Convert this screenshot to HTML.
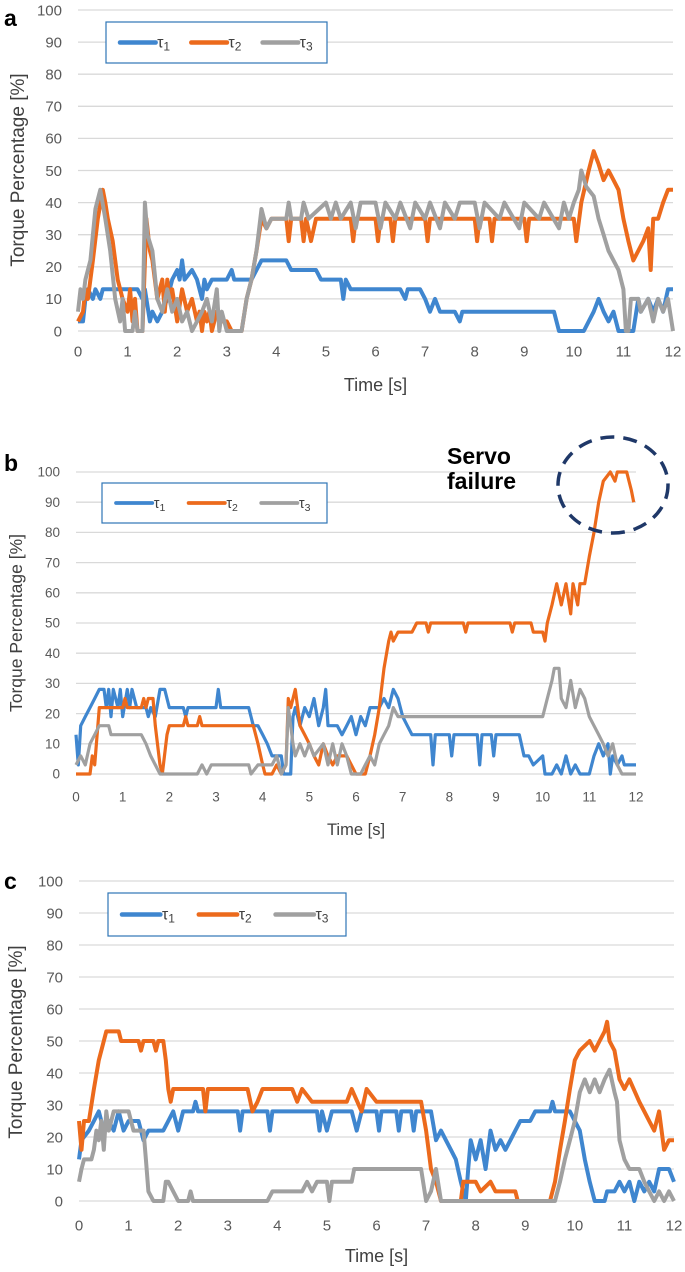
<!DOCTYPE html>
<html><head><meta charset="utf-8"><style>
body{margin:0;background:#fff;}
svg{display:block;font-family:"Liberation Sans",sans-serif;}
</style></head><body>
<svg id="fig" width="685" height="1272" viewBox="0 0 685 1272"></svg>
<script>
const ticksX=[0,1,2,3,4,5,6,7,8,9,10,11,12];
const ticksY=[0,10,20,30,40,50,60,70,80,90,100];
const seriesNames=["τ1","τ2","τ3"];
// flat [t,v,...] arrays
const a_tau1=[0,3,0.1,3,0.15,10,0.2,13,0.3,10,0.35,13,0.45,10,0.5,13,1.2,13,1.3,10,1.35,13,1.45,3,1.5,6,1.6,3,1.7,6,1.8,10,1.9,16,2.0,19,2.05,16,2.1,22,2.15,16,2.3,19,2.4,16,2.5,10,2.55,16,2.6,13,2.7,16,3.0,16,3.1,19,3.15,16,3.5,16,3.6,19,3.7,22,4.2,22,4.3,19,4.8,19,4.9,16,5.3,16,5.35,10,5.4,16,5.5,13,6.5,13,6.6,10,6.65,13,6.9,13,7.0,10,7.1,6,7.2,10,7.3,6,7.6,6,7.7,3,7.75,6,9.6,6,9.7,0,10.2,0,10.4,6,10.5,10,10.6,6,10.7,3,10.8,6,10.9,0,11.2,0,11.3,10,11.35,6,11.5,10,11.6,6,11.7,10,11.8,6,11.9,13,12,13];
const a_tau2=[0,3,0.1,6,0.15,13,0.2,10,0.3,22,0.4,35,0.5,44,0.55,40,0.6,35,0.7,28,0.8,16,0.9,10,1.0,6,1.05,13,1.1,3,1.15,10,1.2,0,1.3,0,1.38,35,1.45,25,1.5,22,1.6,10,1.7,16,1.75,6,1.8,16,1.85,10,1.9,13,2.0,3,2.1,13,2.2,6,2.3,10,2.4,3,2.45,6,2.5,0,2.55,6,2.6,3,2.65,6,2.7,0,2.8,6,2.9,3,3.0,3,3.1,0,3.3,0,3.4,10,3.5,16,3.6,25,3.7,35,3.8,32,3.9,35,4.2,35,4.25,28,4.3,35,4.5,35,4.55,28,4.6,35,4.7,28,4.8,35,5.5,35,5.55,28,5.6,35,6.0,35,6.05,28,6.1,35,6.3,35,6.35,28,6.4,35,7.0,35,7.05,28,7.1,35,8.0,35,8.05,28,8.1,35,8.3,35,8.35,28,8.4,35,9.0,35,9.05,28,9.1,35,10.0,35,10.05,28,10.15,40,10.3,50,10.4,56,10.5,52,10.6,47,10.7,50,10.8,47,10.9,44,11.0,35,11.1,28,11.2,22,11.3,25,11.4,28,11.5,32,11.55,19,11.6,35,11.7,35,11.8,40,11.9,44,12,44];
const a_tau3=[0,6,0.05,13,0.1,10,0.15,16,0.25,22,0.35,38,0.45,44,0.55,35,0.65,25,0.75,10,0.85,3,0.9,10,0.95,0,1.1,0,1.15,6,1.2,0,1.3,0,1.35,40,1.4,30,1.5,25,1.6,10,1.7,6,1.8,13,1.9,6,2.0,10,2.1,3,2.2,6,2.3,0,2.4,3,2.5,6,2.6,10,2.7,3,2.8,13,2.85,0,2.9,6,3.0,0,3.3,0,3.4,10,3.5,16,3.6,25,3.7,38,3.8,32,3.9,35,4.2,35,4.25,40,4.3,35,4.5,35,4.55,40,4.65,35,5.0,40,5.1,35,5.2,40,5.3,35,5.5,40,5.6,32,5.7,40,6.0,40,6.1,32,6.2,40,6.4,35,6.5,40,6.7,32,6.8,40,7.0,35,7.1,40,7.3,32,7.4,40,7.6,35,7.7,40,8.0,40,8.1,32,8.2,40,8.5,35,8.6,40,8.9,32,9.0,40,9.3,35,9.4,40,9.7,32,9.8,40,9.9,35,10.0,40,10.1,44,10.15,50,10.25,45,10.4,42,10.5,35,10.6,30,10.7,25,10.8,22,10.9,19,11.0,13,11.05,0,11.1,0,11.15,10,11.3,10,11.35,6,11.5,10,11.6,3,11.7,10,11.8,6,11.9,10,12,0];
const b_tau1=[0,13,0.05,3,0.1,16,0.2,19,0.3,22,0.4,25,0.5,28,0.6,28,0.65,22,0.7,28,0.75,19,0.8,28,0.9,22,0.95,28,1.0,19,1.1,28,1.15,22,1.2,28,1.3,22,1.5,22,1.55,19,1.6,22,1.7,19,1.8,28,1.9,28,2.0,22,2.3,22,2.35,19,2.4,22,3.0,22,3.05,28,3.1,22,3.7,22,3.75,19,3.8,16,3.9,16,4.0,13,4.1,10,4.2,6,4.4,6,4.45,0,4.6,0,4.65,19,4.7,22,4.8,16,4.9,22,5.0,19,5.1,25,5.2,16,5.3,22,5.35,28,5.4,16,5.6,16,5.7,13,5.8,16,5.9,19,6.0,13,6.1,19,6.2,16,6.3,22,6.5,22,6.6,25,6.7,22,6.8,28,6.9,25,7.0,19,7.1,16,7.2,13,7.6,13,7.65,3,7.7,13,8.0,13,8.05,6,8.1,13,8.6,13,8.65,3,8.7,13,8.9,13,8.95,6,9.0,13,9.5,13,9.6,6,9.7,6,9.8,3,10.0,6,10.05,0,10.2,0,10.3,3,10.4,0,10.5,6,10.6,0,10.7,3,10.8,0,11.0,0,11.1,6,11.2,10,11.3,6,11.4,10,11.45,0,11.5,6,11.6,3,11.7,6,11.75,3,12,3];
const b_tau2=[0,0,0.3,0,0.35,6,0.4,3,0.5,22,1.0,22,1.05,25,1.1,22,1.4,22,1.45,25,1.5,22,1.55,25,1.65,25,1.7,16,1.8,3,1.85,0,1.95,13,2.0,16,2.3,16,2.35,19,2.4,16,2.6,16,2.65,19,2.7,16,3.8,16,3.9,10,4.0,3,4.05,0,4.2,0,4.3,3,4.4,0,4.5,3,4.55,25,4.6,22,4.7,28,4.8,16,4.9,13,5.0,10,5.1,6,5.2,3,5.3,10,5.4,6,5.5,3,5.6,6,5.8,6,5.9,3,6.0,0,6.2,0,6.3,6,6.4,13,6.5,22,6.6,35,6.7,44,6.75,47,6.8,44,6.9,47,7.2,47,7.3,50,7.5,50,7.55,47,7.6,50,8.3,50,8.35,47,8.4,50,9.3,50,9.35,47,9.4,50,9.75,50,9.8,47,10.0,47,10.05,44,10.1,50,10.2,56,10.3,63,10.4,56,10.5,63,10.6,53,10.65,63,10.75,56,10.8,63,10.9,63,11.0,72,11.1,80,11.2,90,11.3,97,11.45,100,11.55,97,11.6,100,11.8,100,11.85,97,11.9,94,11.95,90];
const b_tau3=[0,3,0.1,6,0.2,3,0.3,10,0.4,13,0.5,16,0.7,16,0.75,13,1.4,13,1.5,10,1.6,6,1.7,3,1.8,0,2.6,0,2.7,3,2.8,0,2.9,3,3.7,3,3.75,0,3.9,3,4.2,3,4.3,6,4.4,0,4.5,3,4.55,22,4.6,16,4.65,10,4.7,6,4.8,10,4.9,6,5.0,10,5.1,6,5.3,10,5.4,3,5.5,10,5.6,3,5.7,10,5.8,6,5.9,0,6.1,0,6.2,3,6.3,6,6.4,3,6.5,10,6.6,13,6.7,16,6.8,22,6.9,19,10.0,19,10.1,25,10.2,31,10.25,35,10.35,35,10.4,25,10.5,22,10.6,31,10.7,22,10.8,28,10.9,25,11.0,19,11.1,16,11.2,13,11.3,10,11.4,6,11.5,10,11.6,3,11.7,0,12,0];
const c_tau1=[0,13,0.05,19,0.2,22,0.3,25,0.4,28,0.5,22,0.6,25,0.7,22,0.8,28,0.9,22,1.0,25,1.2,25,1.3,19,1.4,22,1.7,22,1.8,25,1.9,28,2.0,22,2.1,28,2.3,28,2.35,31,2.4,28,3.2,28,3.25,22,3.3,28,3.8,28,3.85,22,3.9,28,4.8,28,4.85,22,4.9,28,5.0,22,5.1,28,5.5,28,5.6,22,5.7,28,6.0,28,6.05,22,6.1,28,6.4,28,6.45,22,6.5,28,6.7,28,6.75,22,6.8,28,7.1,28,7.2,19,7.3,22,7.4,19,7.5,16,7.6,13,7.7,6,7.8,0,7.85,10,7.9,19,8.0,13,8.1,19,8.2,10,8.3,22,8.4,16,8.5,19,8.6,16,8.7,19,8.8,22,8.9,25,9.1,25,9.2,28,9.5,28,9.55,31,9.6,28,9.9,28,10.0,25,10.1,22,10.2,13,10.3,6,10.4,0,10.6,0,10.65,3,10.8,3,10.9,6,11.0,3,11.1,6,11.2,0,11.3,6,11.4,3,11.5,6,11.6,3,11.7,10,11.9,10,12,6];
const c_tau2=[0,25,0.05,16,0.1,25,0.2,25,0.3,35,0.4,44,0.5,50,0.55,53,0.8,53,0.85,50,1.2,50,1.25,47,1.3,50,1.5,50,1.55,47,1.6,50,1.7,50,1.75,44,1.8,35,1.85,31,1.9,35,2.5,35,2.55,28,2.6,35,3.4,35,3.5,28,3.6,31,3.7,35,4.3,35,4.4,31,4.5,35,4.7,31,5.4,31,5.5,35,5.7,28,5.8,35,6.0,31,6.9,31,7.0,22,7.1,10,7.2,6,7.3,0,7.7,0,7.75,6,8.0,6,8.1,3,8.3,6,8.4,3,8.8,3,8.85,0,9.5,0,9.6,6,9.7,16,9.8,25,9.9,35,10.0,44,10.1,47,10.3,50,10.4,47,10.5,50,10.6,53,10.65,56,10.7,50,10.8,47,10.9,38,11.0,35,11.1,38,11.3,31,11.4,28,11.5,25,11.6,22,11.7,28,11.8,16,11.9,19,12,19];
const c_tau3=[0,6,0.05,10,0.1,13,0.25,13,0.3,16,0.35,22,0.4,19,0.45,25,0.5,16,0.55,28,0.6,22,0.7,28,1.0,28,1.1,22,1.3,22,1.35,13,1.4,3,1.5,0,1.7,0,1.75,6,1.8,6,1.9,3,2.0,0,2.2,0,2.25,3,2.3,0,3.8,0,3.9,3,4.5,3,4.6,6,4.7,3,4.8,6,5.0,6,5.05,0,5.1,6,5.5,6,5.55,10,6.9,10,7.0,0,7.1,3,7.2,10,7.3,0,9.6,0,9.7,6,9.8,13,9.9,19,10.0,25,10.1,34,10.2,38,10.3,34,10.4,38,10.5,34,10.6,38,10.7,41,10.8,34,10.85,31,10.9,19,11.0,13,11.1,10,11.3,10,11.4,6,11.5,3,11.6,0,11.7,3,11.8,0,11.9,3,12,0];

const NS="http://www.w3.org/2000/svg";
const svg=document.getElementById('fig');
const colors=["#3f86cf","#ec6a1c","#a0a0a0"];
function mk(tag,attrs,parent){const e=document.createElementNS(NS,tag);for(const k in attrs)e.setAttribute(k,attrs[k]);(parent||svg).appendChild(e);return e;}

const panels=[
 {id:"a",x0:78,x1:673,y0:331,y1:10,lw:4,fs:15,lab:{x:4,y:26},ytx:18,yty:170,ttl:385,xtl:351,leg:[106,22,221,41],series:[a_tau1,a_tau2,a_tau3]},
 {id:"b",x0:76,x1:636,y0:774,y1:472,lw:3.2,fs:13.5,lab:{x:4,y:471},ytx:16,yty:623,ttl:829,xtl:797,leg:[102,483,225,40],series:[b_tau1,b_tau2,b_tau3]},
 {id:"c",x0:79,x1:674,y0:1201,y1:881,lw:4,fs:15,lab:{x:4,y:889},ytx:16,yty:1042,ttl:1256,xtl:1225,leg:[108,893,238,43],series:[c_tau1,c_tau2,c_tau3]}
];

panels.forEach(p=>{
  const g=mk('g',{});
  
  
  const sx=t=>p.x0+(p.x1-p.x0)*t/12;
  const sy=v=>p.y0+(p.y1-p.y0)*v/100;
  ticksY.forEach(v=>{
    const l=mk('line',{x1:p.x0,x2:p.x1,y1:sy(v),y2:sy(v),stroke:"#d9d9d9","stroke-width":1.3},g);
    
    
    const t=mk('text',{x:p.x0-16,y:sy(v)+p.fs*0.35,"text-anchor":"end","font-size":p.fs,fill:"#595959"},g);
    t.textContent=v;
    
    
  });
  ticksX.forEach(v=>{
    const t=mk('text',{x:sx(v),y:p.xtl+p.fs*0.35,"text-anchor":"middle","font-size":p.fs,fill:"#595959"},g);
    t.textContent=v;
    
    
  });
  const xt=mk('text',{x:(p.x0+p.x1)/2,y:p.ttl+6,"text-anchor":"middle","font-size":p.fs+3,fill:"#404040"},g);
  xt.textContent="Time [s]";
  
  
  const yt=mk('text',{x:0,y:0,"text-anchor":"middle","font-size":p.fs+4,fill:"#404040",transform:`translate(${p.ytx+6},${p.yty}) rotate(-90)`},g);
  yt.textContent="Torque Percentage [%]";
  
  
  const pl=mk('text',{x:p.lab.x,y:p.lab.y,"font-size":23,"font-weight":"bold",fill:"#000"},g);
  pl.textContent=p.id;
  
  
  [2,0,1].forEach(i=>{});
  // draw order: blue, orange, grey
  p.series.forEach((arr,i)=>{
    let d="";
    for(let k=0;k<arr.length;k+=2){d+=(k?"L":"M")+sx(arr[k]).toFixed(1)+","+sy(arr[k+1]).toFixed(1);}
    const path=mk('path',{d:d,fill:"none",stroke:colors[i],"stroke-width":p.lw,"stroke-linejoin":"round"},g);
    
    
  });
  const [lx,ly,lw,lh]=p.leg;
  const lg=mk('g',{},g);
  
  
  mk('rect',{x:lx,y:ly,width:lw,height:lh,fill:"#fff",stroke:"#2e75b6","stroke-width":1.2},lg);
  const step=lw/3.1;
  seriesNames.forEach((n,i)=>{
    const bx=lx+14+i*step, cy=ly+lh/2;
    mk('line',{x1:bx,x2:bx+step*0.5,y1:cy,y2:cy,stroke:colors[i],"stroke-width":p.lw+0.5,"stroke-linecap":"round"},lg);
    const t=mk('text',{x:bx+step*0.52,y:cy+5,"font-size":p.fs+1,fill:"#404040"},lg);
    t.innerHTML="τ<tspan font-size='"+(p.fs-3)+"' dy='3'>"+(i+1)+"</tspan>";
    
    
  });
});
// servo failure annotation
const s1=mk('text',{x:447,y:464,"font-size":23,"font-weight":"bold",fill:"#000"});
s1.textContent="Servo";


const s2=mk('text',{x:447,y:489,"font-size":23,"font-weight":"bold",fill:"#000"});
s2.textContent="failure";


const ell=mk('ellipse',{cx:613,cy:485,rx:55,ry:48,fill:"none",stroke:"#1f3868","stroke-width":3.5,"stroke-dasharray":"14 9"});


</script>
</body></html>
